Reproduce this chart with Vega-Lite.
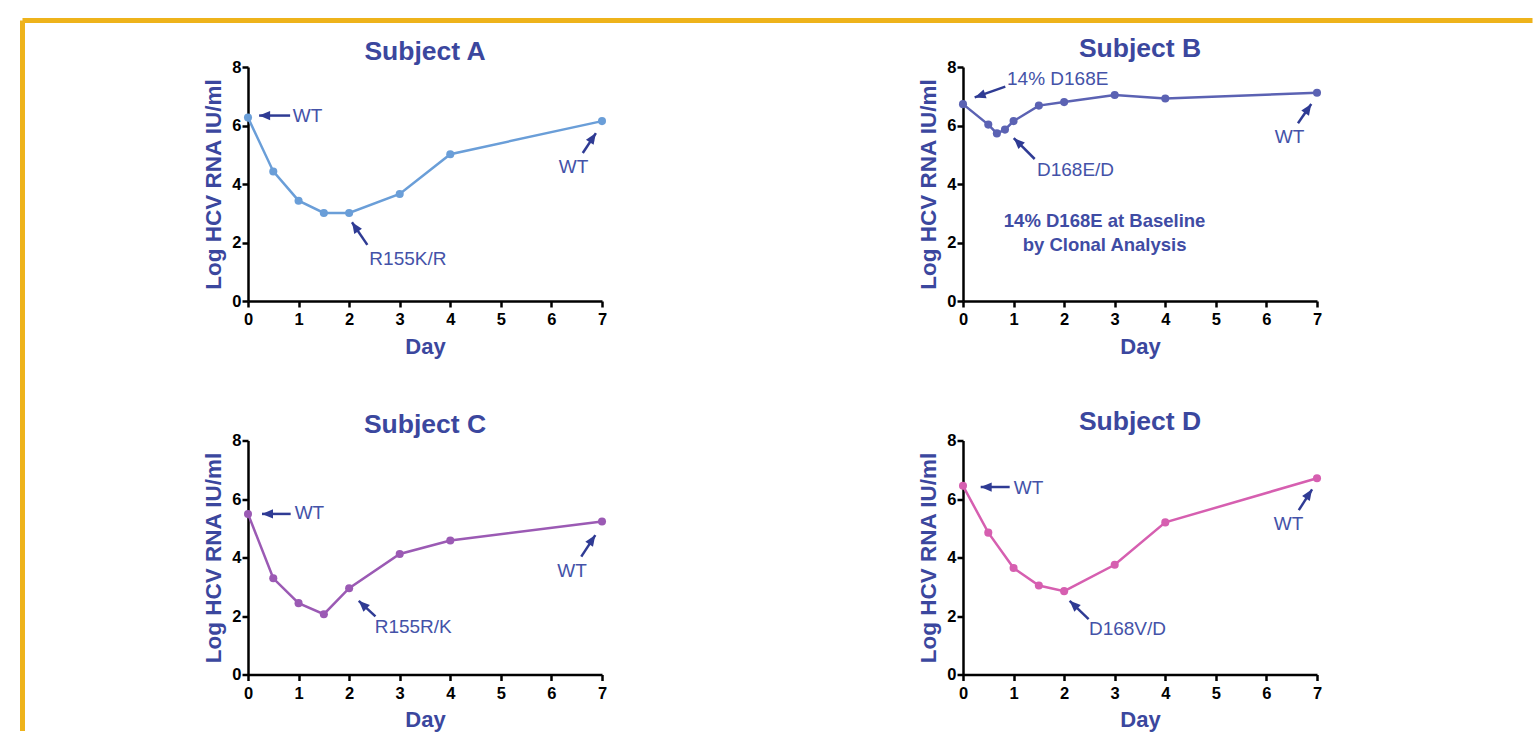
{
  "$schema": "https://vega.github.io/schema/vega-lite/v6.json",
  "background": "white",
  "padding": {"left": 20, "top": 17, "right": 0, "bottom": 0},
  "data": {"values": [
    {"kind": "obs", "subject": "A", "day": 0, "value": 6.27},
    {"kind": "obs", "subject": "A", "day": 0.5, "value": 4.43},
    {"kind": "obs", "subject": "A", "day": 1, "value": 3.43},
    {"kind": "obs", "subject": "A", "day": 1.5, "value": 3.01},
    {"kind": "obs", "subject": "A", "day": 2, "value": 3.01},
    {"kind": "obs", "subject": "A", "day": 3, "value": 3.66},
    {"kind": "obs", "subject": "A", "day": 4, "value": 5.02},
    {"kind": "obs", "subject": "A", "day": 7, "value": 6.15},
    {"kind": "obs", "subject": "B", "day": 0, "value": 6.73},
    {"kind": "obs", "subject": "B", "day": 0.5, "value": 6.03},
    {"kind": "obs", "subject": "B", "day": 0.67, "value": 5.73},
    {"kind": "obs", "subject": "B", "day": 0.83, "value": 5.86},
    {"kind": "obs", "subject": "B", "day": 1, "value": 6.15},
    {"kind": "obs", "subject": "B", "day": 1.5, "value": 6.68},
    {"kind": "obs", "subject": "B", "day": 2, "value": 6.8},
    {"kind": "obs", "subject": "B", "day": 3, "value": 7.04},
    {"kind": "obs", "subject": "B", "day": 4, "value": 6.92},
    {"kind": "obs", "subject": "B", "day": 7, "value": 7.12},
    {"kind": "obs", "subject": "C", "day": 0, "value": 5.49},
    {"kind": "obs", "subject": "C", "day": 0.5, "value": 3.29},
    {"kind": "obs", "subject": "C", "day": 1, "value": 2.44},
    {"kind": "obs", "subject": "C", "day": 1.5, "value": 2.06},
    {"kind": "obs", "subject": "C", "day": 2, "value": 2.95},
    {"kind": "obs", "subject": "C", "day": 3, "value": 4.12},
    {"kind": "obs", "subject": "C", "day": 4, "value": 4.58},
    {"kind": "obs", "subject": "C", "day": 7, "value": 5.23},
    {"kind": "obs", "subject": "D", "day": 0, "value": 6.45},
    {"kind": "obs", "subject": "D", "day": 0.5, "value": 4.85},
    {"kind": "obs", "subject": "D", "day": 1, "value": 3.64},
    {"kind": "obs", "subject": "D", "day": 1.5, "value": 3.04},
    {"kind": "obs", "subject": "D", "day": 2, "value": 2.85},
    {"kind": "obs", "subject": "D", "day": 3, "value": 3.75},
    {"kind": "obs", "subject": "D", "day": 4, "value": 5.2},
    {"kind": "obs", "subject": "D", "day": 7, "value": 6.71},

    {"kind": "arrow", "subject": "A", "dir": "left", "day": 0.22, "value": 6.34, "day2": 0.833, "value2": 6.34},
    {"kind": "arrow", "subject": "A", "dir": "upleft2", "day": 2.056, "value": 2.69, "day2": 2.36, "value2": 1.92},
    {"kind": "arrow", "subject": "A", "dir": "upright", "day": 6.88, "value": 5.74, "day2": 6.62, "value2": 5.06},
    {"kind": "arrow", "subject": "B", "dir": "downleft", "day": 0.231, "value": 6.96, "day2": 0.836, "value2": 7.33},
    {"kind": "arrow", "subject": "B", "dir": "upleft", "day": 1.003, "value": 5.57, "day2": 1.418, "value2": 4.855},
    {"kind": "arrow", "subject": "B", "dir": "upright", "day": 6.887, "value": 6.735, "day2": 6.624, "value2": 6.075},
    {"kind": "arrow", "subject": "C", "dir": "left", "day": 0.277, "value": 5.49, "day2": 0.844, "value2": 5.49},
    {"kind": "arrow", "subject": "C", "dir": "upleft", "day": 2.19, "value": 2.52, "day2": 2.52, "value2": 1.985},
    {"kind": "arrow", "subject": "C", "dir": "upright", "day": 6.868, "value": 4.766, "day2": 6.59, "value2": 4.03},
    {"kind": "arrow", "subject": "D", "dir": "left", "day": 0.35, "value": 6.41, "day2": 0.923, "value2": 6.41},
    {"kind": "arrow", "subject": "D", "dir": "upleft", "day": 2.109, "value": 2.52, "day2": 2.484, "value2": 1.89},
    {"kind": "arrow", "subject": "D", "dir": "upright", "day": 6.903, "value": 6.33, "day2": 6.64, "value2": 5.62},

    {"kind": "note", "subject": "A", "label": "WT", "day": 0.886, "value": 6.33},
    {"kind": "note", "subject": "A", "label": "R155K/R", "day": 2.4, "value": 1.45},
    {"kind": "note", "subject": "A", "label": "WT", "day": 6.147, "value": 4.58},
    {"kind": "note", "subject": "B", "label": "14% D168E", "day": 0.87, "value": 7.59},
    {"kind": "note", "subject": "B", "label": "D168E/D", "day": 1.463, "value": 4.48},
    {"kind": "note", "subject": "B", "label": "WT", "day": 6.164, "value": 5.6},
    {"kind": "note", "subject": "C", "label": "WT", "day": 0.923, "value": 5.525},
    {"kind": "note", "subject": "C", "label": "R155R/K", "day": 2.505, "value": 1.61},
    {"kind": "note", "subject": "C", "label": "WT", "day": 6.117, "value": 3.54},
    {"kind": "note", "subject": "D", "label": "WT", "day": 1.003, "value": 6.39},
    {"kind": "note", "subject": "D", "label": "D168V/D", "day": 2.49, "value": 1.55},
    {"kind": "note", "subject": "D", "label": "WT", "day": 6.146, "value": 5.14},
    {"kind": "bold", "subject": "B", "label": "14% D168E at Baseline", "day": 2.8, "value": 2.72},
    {"kind": "bold", "subject": "B", "label": "by Clonal Analysis", "day": 2.8, "value": 1.9}
  ]},
  "columns": 2,
  "bounds": "flush",
  "spacing": {"row": 139.5, "column": 361},
  "concat": [
    {
      "title": {"text": "Subject A", "offset": -48},
      "width": 354, "height": 234,
      "transform": [{"filter": "datum.subject === 'A'"}],
      "encoding": {
        "x": {"field": "day", "type": "quantitative", "title": "Day", "scale": {"domain": [0, 7], "nice": false, "zero": false}, "axis": {"values": [0, 1, 2, 3, 4, 5, 6, 7]}},
        "y": {"field": "value", "type": "quantitative", "title": "Log HCV RNA IU/ml", "scale": {"domain": [0, 8], "nice": false}, "axis": {"values": [0, 2, 4, 6, 8]}}
      },
      "layer": [
        {"transform": [{"filter": "datum.kind === 'obs' && datum.day === 0"}], "mark": {"type": "rule", "color": "#eeb31b", "strokeWidth": 5, "clip": false}, "encoding": {"x": {"datum": -4.459, "type": "quantitative"}, "x2": {"datum": 25.4}, "y": {"datum": 9.59, "type": "quantitative"}}},
        {"transform": [{"filter": "datum.kind === 'obs' && datum.day === 0"}], "mark": {"type": "rule", "color": "#eeb31b", "strokeWidth": 5, "clip": false}, "encoding": {"x": {"datum": -4.459, "type": "quantitative"}, "y": {"datum": 9.59, "type": "quantitative"}, "y2": {"datum": -14.7}}},
        {"transform": [{"filter": "datum.kind === 'obs'"}], "mark": {"type": "line", "color": "#6a9ed8", "strokeWidth": 2.5}, "encoding": {}},
        {"transform": [{"filter": "datum.kind === 'obs'"}], "mark": {"type": "point", "filled": true, "opacity": 1, "size": 65, "color": "#6a9ed8"}},
        {"transform": [{"filter": "datum.kind === 'arrow'"}], "mark": {"type": "rule", "color": "#2f3b94", "strokeWidth": 2.5}, "encoding": {"x2": {"field": "day2"}, "y2": {"field": "value2"}}},
        {"transform": [{"filter": "datum.kind === 'arrow'"}], "mark": {"type": "point", "shape": "M0,0L-0.42,1L0.42,1Z", "filled": true, "opacity": 1, "size": 484, "color": "#2f3b94"}, "encoding": {"angle": {"field": "dir", "type": "nominal", "scale": {"type": "ordinal", "domain": ["left", "upleft", "upleft2", "upright", "downleft"], "range": [270, 314, 326, 34, 251]}, "legend": null}}},
        {"transform": [{"filter": "datum.kind === 'note'"}], "mark": {"type": "text", "align": "left", "baseline": "middle", "fontSize": 19, "color": "#4452a8"}, "encoding": {"text": {"field": "label"}}}
      ]
    },
    {
      "title": {"text": "Subject B", "offset": -3},
      "width": 354, "height": 234,
      "transform": [{"filter": "datum.subject === 'B'"}],
      "encoding": {
        "x": {"field": "day", "type": "quantitative", "title": "Day", "scale": {"domain": [0, 7], "nice": false, "zero": false}, "axis": {"values": [0, 1, 2, 3, 4, 5, 6, 7]}},
        "y": {"field": "value", "type": "quantitative", "title": "Log HCV RNA IU/ml", "scale": {"domain": [0, 8], "nice": false}, "axis": {"values": [0, 2, 4, 6, 8]}}
      },
      "layer": [
        {"transform": [{"filter": "datum.kind === 'obs'"}], "mark": {"type": "line", "color": "#5b62b3", "strokeWidth": 2.5}, "encoding": {}},
        {"transform": [{"filter": "datum.kind === 'obs'"}], "mark": {"type": "point", "filled": true, "opacity": 1, "size": 65, "color": "#5b62b3"}},
        {"transform": [{"filter": "datum.kind === 'arrow'"}], "mark": {"type": "rule", "color": "#2f3b94", "strokeWidth": 2.5}, "encoding": {"x2": {"field": "day2"}, "y2": {"field": "value2"}}},
        {"transform": [{"filter": "datum.kind === 'arrow'"}], "mark": {"type": "point", "shape": "M0,0L-0.42,1L0.42,1Z", "filled": true, "opacity": 1, "size": 484, "color": "#2f3b94"}, "encoding": {"angle": {"field": "dir", "type": "nominal", "scale": {"type": "ordinal", "domain": ["left", "upleft", "upleft2", "upright", "downleft"], "range": [270, 314, 326, 34, 251]}, "legend": null}}},
        {"transform": [{"filter": "datum.kind === 'note'"}], "mark": {"type": "text", "align": "left", "baseline": "middle", "fontSize": 19, "color": "#4452a8"}, "encoding": {"text": {"field": "label"}}},
        {"transform": [{"filter": "datum.kind === 'bold'"}], "mark": {"type": "text", "align": "center", "baseline": "middle", "fontSize": 18.5, "fontWeight": "bold", "color": "#3f4ca4"}, "encoding": {"text": {"field": "label"}}}
      ]
    },
    {
      "title": "Subject C",
      "width": 354, "height": 234,
      "transform": [{"filter": "datum.subject === 'C'"}],
      "encoding": {
        "x": {"field": "day", "type": "quantitative", "title": "Day", "scale": {"domain": [0, 7], "nice": false, "zero": false}, "axis": {"values": [0, 1, 2, 3, 4, 5, 6, 7]}},
        "y": {"field": "value", "type": "quantitative", "title": "Log HCV RNA IU/ml", "scale": {"domain": [0, 8], "nice": false}, "axis": {"values": [0, 2, 4, 6, 8]}}
      },
      "layer": [
        {"transform": [{"filter": "datum.kind === 'obs'"}], "mark": {"type": "line", "color": "#9b5ab4", "strokeWidth": 2.5}, "encoding": {}},
        {"transform": [{"filter": "datum.kind === 'obs'"}], "mark": {"type": "point", "filled": true, "opacity": 1, "size": 65, "color": "#9b5ab4"}},
        {"transform": [{"filter": "datum.kind === 'arrow'"}], "mark": {"type": "rule", "color": "#2f3b94", "strokeWidth": 2.5}, "encoding": {"x2": {"field": "day2"}, "y2": {"field": "value2"}}},
        {"transform": [{"filter": "datum.kind === 'arrow'"}], "mark": {"type": "point", "shape": "M0,0L-0.42,1L0.42,1Z", "filled": true, "opacity": 1, "size": 484, "color": "#2f3b94"}, "encoding": {"angle": {"field": "dir", "type": "nominal", "scale": {"type": "ordinal", "domain": ["left", "upleft", "upleft2", "upright", "downleft"], "range": [270, 314, 326, 34, 251]}, "legend": null}}},
        {"transform": [{"filter": "datum.kind === 'note'"}], "mark": {"type": "text", "align": "left", "baseline": "middle", "fontSize": 19, "color": "#4452a8"}, "encoding": {"text": {"field": "label"}}}
      ]
    },
    {
      "title": {"text": "Subject D", "offset": -3},
      "width": 354, "height": 234,
      "transform": [{"filter": "datum.subject === 'D'"}],
      "encoding": {
        "x": {"field": "day", "type": "quantitative", "title": "Day", "scale": {"domain": [0, 7], "nice": false, "zero": false}, "axis": {"values": [0, 1, 2, 3, 4, 5, 6, 7]}},
        "y": {"field": "value", "type": "quantitative", "title": "Log HCV RNA IU/ml", "scale": {"domain": [0, 8], "nice": false}, "axis": {"values": [0, 2, 4, 6, 8]}}
      },
      "layer": [
        {"transform": [{"filter": "datum.kind === 'obs'"}], "mark": {"type": "line", "color": "#d65fb0", "strokeWidth": 2.5}, "encoding": {}},
        {"transform": [{"filter": "datum.kind === 'obs'"}], "mark": {"type": "point", "filled": true, "opacity": 1, "size": 65, "color": "#d65fb0"}},
        {"transform": [{"filter": "datum.kind === 'arrow'"}], "mark": {"type": "rule", "color": "#2f3b94", "strokeWidth": 2.5}, "encoding": {"x2": {"field": "day2"}, "y2": {"field": "value2"}}},
        {"transform": [{"filter": "datum.kind === 'arrow'"}], "mark": {"type": "point", "shape": "M0,0L-0.42,1L0.42,1Z", "filled": true, "opacity": 1, "size": 484, "color": "#2f3b94"}, "encoding": {"angle": {"field": "dir", "type": "nominal", "scale": {"type": "ordinal", "domain": ["left", "upleft", "upleft2", "upright", "downleft"], "range": [270, 314, 326, 34, 251]}, "legend": null}}},
        {"transform": [{"filter": "datum.kind === 'note'"}], "mark": {"type": "text", "align": "left", "baseline": "middle", "fontSize": 19, "color": "#4452a8"}, "encoding": {"text": {"field": "label"}}}
      ]
    }
  ],
  "config": {
    "font": "Liberation Sans",
    "view": {"stroke": null},
    "axis": {
      "grid": false,
      "domainColor": "#000000", "domainWidth": 2.5,
      "tickColor": "#000000", "tickWidth": 2.5, "tickSize": 6,
      "labelFont": "Liberation Sans", "labelFontSize": 16.5, "labelFontWeight": "bold", "labelColor": "#000000",
      "labelFlush": false, "labelOverlap": false,
      "titleFont": "Liberation Sans", "titleFontSize": 22.5, "titleFontWeight": "bold", "titleColor": "#3b479e"
    },
    "axisX": {"labelPadding": 4.5, "titlePadding": 8, "titleFontSize": 22},
    "axisY": {"labelPadding": 1, "titlePadding": 6},
    "title": {"font": "Liberation Sans", "fontSize": 26.5, "fontWeight": "bold", "color": "#3b479e", "frame": "group", "anchor": "middle", "offset": -6}
  }
}
